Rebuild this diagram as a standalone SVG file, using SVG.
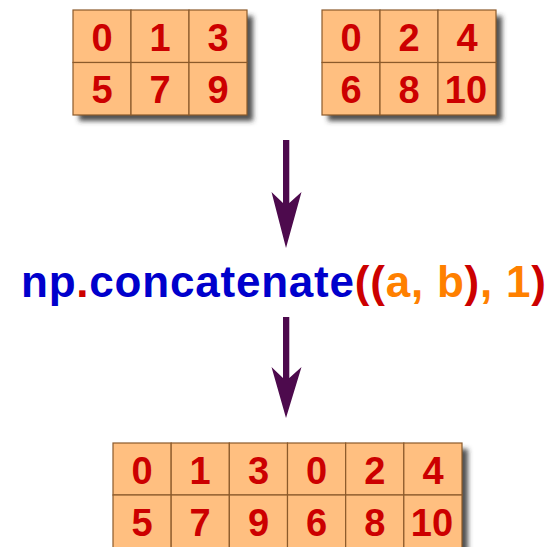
<svg xmlns="http://www.w3.org/2000/svg" width="558" height="547" viewBox="0 0 558 547">
  <defs>
    <filter id="shadow" x="-10%" y="-10%" width="130%" height="140%">
      <feDropShadow dx="6" dy="6" stdDeviation="2.5" flood-color="#333" flood-opacity="0.85"/>
    </filter>
  </defs>
  <style>
    .cell { fill: #ffbf80; stroke: #8b5a2b; stroke-width: 1.2; }
    .num { font-family: "Liberation Sans", Arial, sans-serif; font-weight: bold; font-size: 38px; fill: #cc0000; text-anchor: middle; }
    .arrow { fill: #4d0a4d; }
    .code { font-family: "Liberation Sans", Arial, sans-serif; font-weight: bold; font-size: 44px; }
    .blue { fill: #0000cc; }
    .red { fill: #cc0000; }
    .orange { fill: #ff8000; }
  </style>
  <rect width="558" height="547" fill="#ffffff"/>

  <!-- array a -->
  <g id="array-a">
    <rect x="73" y="10" width="174" height="105" fill="#ffbf80" filter="url(#shadow)"/>
    <rect class="cell" x="73" y="10" width="58" height="52.5"/>
    <rect class="cell" x="131" y="10" width="58" height="52.5"/>
    <rect class="cell" x="189" y="10" width="58" height="52.5"/>
    <rect class="cell" x="73" y="62.5" width="58" height="52.5"/>
    <rect class="cell" x="131" y="62.5" width="58" height="52.5"/>
    <rect class="cell" x="189" y="62.5" width="58" height="52.5"/>
    <text class="num" x="102" y="50.5">0</text>
    <text class="num" x="160" y="50.5">1</text>
    <text class="num" x="218" y="50.5">3</text>
    <text class="num" x="102" y="102.5">5</text>
    <text class="num" x="160" y="102.5">7</text>
    <text class="num" x="218" y="102.5">9</text>
  </g>

  <!-- array b -->
  <g id="array-b">
    <rect x="322" y="10" width="174" height="105" fill="#ffbf80" filter="url(#shadow)"/>
    <rect class="cell" x="322" y="10" width="58" height="52.5"/>
    <rect class="cell" x="380" y="10" width="58" height="52.5"/>
    <rect class="cell" x="438" y="10" width="58" height="52.5"/>
    <rect class="cell" x="322" y="62.5" width="58" height="52.5"/>
    <rect class="cell" x="380" y="62.5" width="58" height="52.5"/>
    <rect class="cell" x="438" y="62.5" width="58" height="52.5"/>
    <text class="num" x="351" y="50.5">0</text>
    <text class="num" x="409" y="50.5">2</text>
    <text class="num" x="467" y="50.5">4</text>
    <text class="num" x="351" y="102.5">6</text>
    <text class="num" x="409" y="102.5">8</text>
    <text class="num" x="466" y="102.5">10</text>
  </g>

  <!-- call expression -->
  <g id="expression">
    <text class="code" x="21" y="297" textLength="525" lengthAdjust="spacing"><tspan class="blue">np</tspan><tspan class="red">.</tspan><tspan class="blue">concatenate</tspan><tspan class="red">((</tspan><tspan class="orange">a, b</tspan><tspan class="red">)</tspan><tspan class="orange">, 1</tspan><tspan class="red">)</tspan></text>
  </g>

  <!-- result -->
  <g id="result">
    <rect x="113" y="443" width="349" height="110" fill="#ffbf80" filter="url(#shadow)"/>
    <rect class="cell" x="113" y="443" width="58.17" height="52"/>
    <rect class="cell" x="171.17" y="443" width="58.17" height="52"/>
    <rect class="cell" x="229.33" y="443" width="58.17" height="52"/>
    <rect class="cell" x="287.5" y="443" width="58.17" height="52"/>
    <rect class="cell" x="345.67" y="443" width="58.17" height="52"/>
    <rect class="cell" x="403.83" y="443" width="58.17" height="52"/>
    <rect class="cell" x="113" y="495" width="58.17" height="58"/>
    <rect class="cell" x="171.17" y="495" width="58.17" height="58"/>
    <rect class="cell" x="229.33" y="495" width="58.17" height="58"/>
    <rect class="cell" x="287.5" y="495" width="58.17" height="58"/>
    <rect class="cell" x="345.67" y="495" width="58.17" height="58"/>
    <rect class="cell" x="403.83" y="495" width="58.17" height="58"/>
    <text class="num" x="142" y="484">0</text>
    <text class="num" x="200" y="484">1</text>
    <text class="num" x="258.5" y="484">3</text>
    <text class="num" x="316.5" y="484">0</text>
    <text class="num" x="374.7" y="484">2</text>
    <text class="num" x="433" y="484">4</text>
    <text class="num" x="142" y="536">5</text>
    <text class="num" x="200" y="536">7</text>
    <text class="num" x="258.5" y="536">9</text>
    <text class="num" x="316.5" y="536">6</text>
    <text class="num" x="374.7" y="536">8</text>
    <text class="num" x="432" y="536">10</text>
  </g>

  <!-- connectors -->
  <g id="connectors">
    <polygon class="arrow" points="283,140 289.3,140 289.3,203 301.5,192 286,248 271.5,192 283,203"/>
    <polygon class="arrow" points="283,317 289.3,317 289.3,378 301.5,367 286,418 271.5,367 283,378"/>
  </g>
</svg>
